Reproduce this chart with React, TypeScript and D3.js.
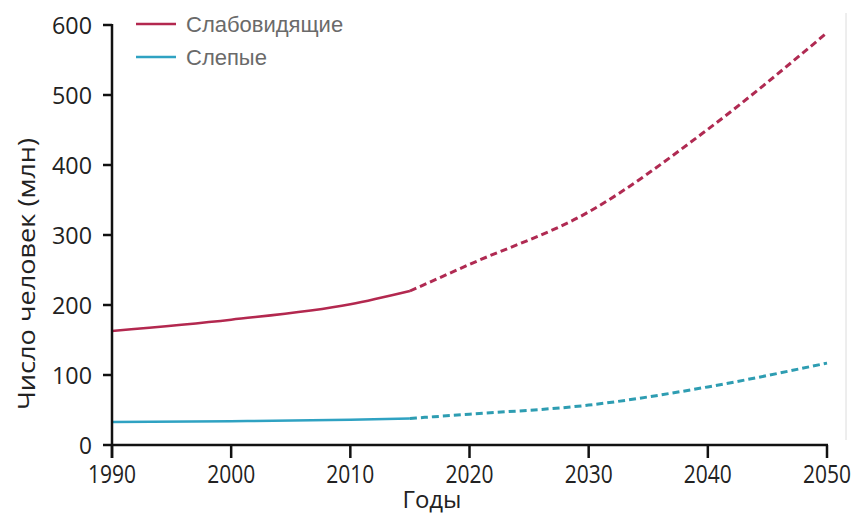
import React from "react";
import * as d3 from "d3";

const years = [1990, 2000, 2010, 2015, 2020, 2030, 2040, 2050];
const impaired = [163, 179, 201, 220, 258, 333, 451, 589];
const blind = [33, 34, 36, 38, 44, 57, 83, 117];
const splitYear = 2015;
const xTicks = [1990, 2000, 2010, 2020, 2030, 2040, 2050];
const yTicks = [0, 100, 200, 300, 400, 500, 600];
const seriesNames = ["Слабовидящие", "Слепые"];
const colors = ["#b3284f", "#2fa2c2"];
const dashColors = ["#b02a52", "#2e9db2"];

export default function App() {
  const W = 856, H = 514;
  const x = d3.scaleLinear().domain([1990, 2050]).range([112, 827]);
  const y = d3.scaleLinear().domain([0, 600]).range([445, 25]);
  const line = d3
    .line<[number, number]>()
    .x((d) => x(d[0]))
    .y((d) => y(d[1]))
    .curve(d3.curveMonotoneX);

  const series = [impaired, blind];
  const font = "'Open Sans', 'DejaVu Sans', sans-serif";

  return (
    <svg
      width={W}
      height={H}
      style={{ position: "absolute", left: 0, top: 0, background: "#fff" }}
    >
      <line x1={846} y1={13} x2={846} y2={440} stroke="#dcdcdc" strokeWidth={1} />
      {series.map((vals, i) => {
        const pts = years.map((yr, j) => [yr, vals[j]] as [number, number]);
        const solid = pts.filter((p) => p[0] <= splitYear);
        const dashed = pts.filter((p) => p[0] >= splitYear);
        return (
          <g key={i}>
            <path d={line(solid) || ""} fill="none" stroke={colors[i]} strokeWidth={2.5} />
            <path
              d={line(dashed) || ""}
              fill="none"
              stroke={dashColors[i]}
              strokeWidth={3}
              strokeDasharray="7 4"
            />
          </g>
        );
      })}
      {/* axes */}
      <line x1={x(1990)} y1={y(600) - 1} x2={x(1990)} y2={458} stroke="#111" strokeWidth={2.5} />
      <line x1={x(1990) - 1} y1={y(0)} x2={x(2050) + 1} y2={y(0)} stroke="#111" strokeWidth={2.5} />
      {yTicks.map((t) => (
        <g key={t}>
          <line x1={x(1990) - 9} x2={x(1990)} y1={y(t)} y2={y(t)} stroke="#111" strokeWidth={2.5} />
          <text
            x={92}
            y={y(t) + 8.5}
            textAnchor="end"
            fontFamily={font}
            fontSize={24}
            fill="#222"
            textLength={t === 0 ? 13 : 40}
            lengthAdjust="spacingAndGlyphs"
          >
            {t}
          </text>
        </g>
      ))}
      {xTicks.map((t) => (
        <g key={t}>
          <line x1={x(t)} x2={x(t)} y1={y(0)} y2={y(0) + 13} stroke="#111" strokeWidth={2.5} />
          <text
            x={x(t)}
            y={483}
            textAnchor="middle"
            fontFamily={font}
            fontSize={26}
            fill="#222"
            textLength={48}
            lengthAdjust="spacingAndGlyphs"
          >
            {t}
          </text>
        </g>
      ))}
      <text
        x={432}
        y={508}
        textAnchor="middle"
        fontFamily={font}
        fontSize={23}
        fill="#222"
        textLength={59}
        lengthAdjust="spacingAndGlyphs"
      >
        Годы
      </text>
      <text
        transform="translate(35,274) rotate(-90)"
        textAnchor="middle"
        fontFamily={font}
        fontSize={23}
        fill="#222"
        textLength={272}
        lengthAdjust="spacingAndGlyphs"
      >
        Число человек (млн)
      </text>
      {/* legend */}
      {seriesNames.map((n, i) => (
        <g key={n}>
          <line x1={136} x2={176} y1={24 + i * 33} y2={24 + i * 33} stroke={colors[i]} strokeWidth={2.5} />
          <text
            x={186}
            y={32 + i * 33}
            fontFamily="'Liberation Sans', Arial, sans-serif"
            fontSize={22}
            fill="#6a6a6a"
          >
            {n}
          </text>
        </g>
      ))}
    </svg>
  );
}
